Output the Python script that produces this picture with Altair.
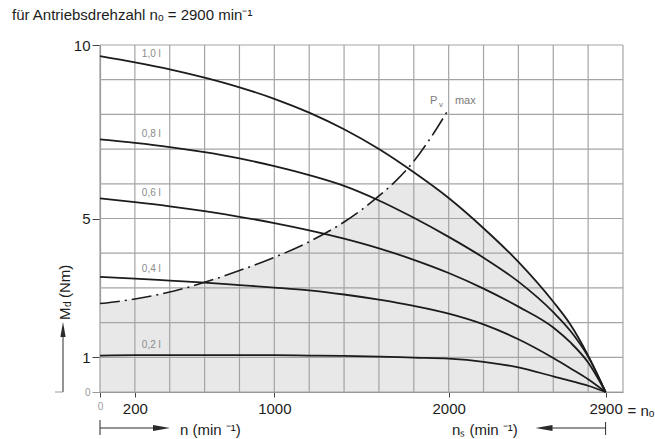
import altair as alt
import numpy as np
import pandas as pd

# ---------------- data ----------------
N = [0, 200, 400, 600, 800, 1000, 1200, 1400, 1600, 1800, 2000, 2200, 2400, 2600, 2700, 2800, 2900]
M_10 = [9.68, 9.50, 9.30, 9.06, 8.78, 8.45, 8.05, 7.57, 7.00, 6.33, 5.59, 4.72, 3.75, 2.60, 1.93, 1.05, 0.0]
M_08 = [7.28, 7.18, 7.06, 6.91, 6.73, 6.51, 6.25, 5.94, 5.52, 5.02, 4.47, 3.87, 3.18, 2.30, 1.75, 1.02, 0.0]
M_06 = [5.58, 5.47, 5.35, 5.21, 5.05, 4.87, 4.66, 4.42, 4.14, 3.81, 3.43, 2.98, 2.46, 1.86, 1.42, 0.85, 0.0]
M_04 = [3.32, 3.27, 3.21, 3.15, 3.08, 3.01, 2.93, 2.81, 2.66, 2.48, 2.26, 1.95, 1.52, 0.98, 0.68, 0.37, 0.0]
M_02 = [1.05, 1.06, 1.06, 1.06, 1.06, 1.06, 1.05, 1.04, 1.02, 0.99, 0.96, 0.87, 0.71, 0.45, 0.32, 0.18, 0.0]
CURVES = [("1,0 l", M_10), ("0,8 l", M_08), ("0,6 l", M_06), ("0,4 l", M_04), ("0,2 l", M_02)]

PV_N = [0, 200, 400, 600, 800, 1000, 1200, 1400, 1500, 1600, 1700, 1800, 1900, 1990]
PV_M = [2.55, 2.68, 2.88, 3.16, 3.50, 3.88, 4.33, 4.90, 5.25, 5.65, 6.10, 6.65, 7.35, 8.07]

SHADE_CAP = 6.0
LABEL_N = 240
X_TICKS = [0, 200, 1000, 2000, 2900]
Y_TICKS = [0, 1, 5, 10]
X_GRID = list(range(0, 3001, 200))
Y_GRID = list(range(0, 11))

TITLE = "f\u00fcr Antriebsdrehzahl n\u2092 = 2900 min\u207b\u00b9"

# ---------------- derived tables ----------------
curve_df = pd.concat(
    [pd.DataFrame({"n": N, "M": vals, "curve": name}) for name, vals in CURVES],
    ignore_index=True,
)
pv_df = pd.DataFrame({"n": PV_N, "M": PV_M})

n1 = float(np.interp(SHADE_CAP, PV_M, PV_N))
n2 = float(np.interp(SHADE_CAP, M_10[::-1], N[::-1]))
shade_n = sorted(set(N) | set(PV_N) | {n1, n2})
shade_top = [min(np.interp(v, PV_N, PV_M), SHADE_CAP, np.interp(v, N, M_10)) for v in shade_n]
shade_df = pd.DataFrame({"n": shade_n, "M": shade_top})

label_df = pd.DataFrame({
    "n": [LABEL_N] * len(CURVES),
    "M": [float(np.interp(LABEL_N, N, vals)) for _, vals in CURVES],
    "text": [name for name, _ in CURVES],
})
pv_end = pd.DataFrame({"n": [PV_N[-1]], "M": [PV_M[-1]]})
vgrid = pd.DataFrame({"n": X_GRID})
hgrid = pd.DataFrame({"M": Y_GRID})
n0_df = pd.DataFrame({"n": [2900]})
one = pd.DataFrame({"k": [0]})

# ---------------- styling ----------------
W, H = 523, 347
FONT = "Liberation Sans"
INK = "#1c1c1c"
GRID = "#a4a4a4"

xs = alt.Scale(domain=[0, 3000], nice=False, zero=False)
ys = alt.Scale(domain=[0, 10], nice=False)

x_axis = alt.Axis(
    values=X_TICKS, format="d", grid=False, title=None,
    domain=True, domainColor="#8c8c8c", domainWidth=1.2,
    ticks=True, tickSize=5, tickColor="#444444",
    labelFont=FONT,
    labelFontSize={"condition": {"test": "datum.value == 0", "value": 10}, "value": 15},
    labelColor={"condition": {"test": "datum.value == 0", "value": "#9a9a9a"}, "value": INK},
    labelPadding=4, labelFlush=False, labelOverlap=False,
)
y_axis = alt.Axis(
    values=Y_TICKS, grid=False, title=None,
    domain=True, domainColor="#8c8c8c", domainWidth=1.2,
    ticks=True, tickSize=8,
    tickColor={"condition": {"test": "datum.value == 0", "value": "#9a9a9a"}, "value": "#444444"},
    labelFont=FONT,
    labelFontSize={"condition": {"test": "datum.value == 0", "value": 10}, "value": 15},
    labelColor={"condition": {"test": "datum.value == 0", "value": "#9a9a9a"}, "value": INK},
    labelPadding=2, labelFlush=False, labelOverlap=False,
)
X = alt.X("n:Q", scale=xs, axis=x_axis)
Y = alt.Y("M:Q", scale=ys, axis=y_axis)

layers = []
layers.append(alt.Chart(shade_df).mark_area(color="#e8e8e8", interpolate="linear").encode(x=X, y=Y))
layers.append(alt.Chart(vgrid).mark_rule(color=GRID, strokeWidth=1.2).encode(x=X))
layers.append(alt.Chart(hgrid).mark_rule(color=GRID, strokeWidth=1.2).encode(y=Y))
layers.append(
    alt.Chart(curve_df).mark_line(color=INK, strokeWidth=1.8, interpolate="monotone")
    .encode(x=X, y=Y, detail="curve:N")
)
layers.append(
    alt.Chart(pv_df).mark_line(color=INK, strokeWidth=1.6, interpolate="monotone", strokeDash=[20, 5, 2, 5])
    .encode(x=X, y=Y)
)
layers.append(
    alt.Chart(label_df).mark_text(align="left", baseline="middle", dy=-10, font=FONT, fontSize=10, color="#8a8a8a")
    .encode(x=X, y=Y, text="text:N")
)
# P_v max label
layers.append(alt.Chart(pv_end).mark_text(align="left", baseline="middle", dx=-17, dy=-11, font=FONT, fontSize=11, color="#7a7a7a", text="P").encode(x=X, y=Y))
layers.append(alt.Chart(pv_end).mark_text(align="left", baseline="middle", dx=-8, dy=-7, font=FONT, fontSize=8, color="#7a7a7a", text="v").encode(x=X, y=Y))
layers.append(alt.Chart(pv_end).mark_text(align="left", baseline="middle", dx=8, dy=-11, font=FONT, fontSize=11, color="#7a7a7a", text="max").encode(x=X, y=Y))
# "= n_o" after 2900
layers.append(alt.Chart(n0_df).mark_text(align="left", baseline="middle", dx=22, font=FONT, fontSize=15, color=INK, text="= n\u2092")
              .encode(x=X, y=alt.value(366)))

# title
layers.append(alt.Chart(one).mark_text(align="left", baseline="alphabetic", font=FONT, fontSize=15, color=INK, text=TITLE)
              .encode(x=alt.value(-88), y=alt.value(-25)))
# x-axis titles
layers.append(alt.Chart(one).mark_text(align="left", baseline="middle", font=FONT, fontSize=15, color=INK, text="n (min \u207b\u00b9)")
              .encode(x=alt.value(80), y=alt.value(385)))
layers.append(alt.Chart(one).mark_text(align="left", baseline="middle", font=FONT, fontSize=15, color=INK, text="n\u209b (min \u207b\u00b9)")
              .encode(x=alt.value(352), y=alt.value(385)))
# y-axis title (rotated pieces)
layers.append(alt.Chart(one).mark_text(align="left", baseline="middle", angle=270, font=FONT, fontSize=15, color=INK, text="M")
              .encode(x=alt.value(-35), y=alt.value(275)))
layers.append(alt.Chart(one).mark_text(align="left", baseline="middle", angle=270, font=FONT, fontSize=10, color=INK, text="d")
              .encode(x=alt.value(-32), y=alt.value(262)))
layers.append(alt.Chart(one).mark_text(align="left", baseline="middle", angle=270, font=FONT, fontSize=15, color=INK, text="(Nm)")
              .encode(x=alt.value(-35), y=alt.value(253)))

# arrows
ARROW = "#2a2a2a"
layers.append(alt.Chart(one).mark_rule(color=ARROW, strokeWidth=1).encode(x=alt.value(0), x2=alt.value(56), y=alt.value(383)))
layers.append(alt.Chart(one).mark_rule(color=ARROW, strokeWidth=1).encode(x=alt.value(0), y=alt.value(375), y2=alt.value(390)))
layers.append(alt.Chart(one).mark_point(filled=True, opacity=1, color=ARROW, size=289, shape="M1,0L-1,-0.35L-1,0.35Z")
              .encode(x=alt.value(61.5), y=alt.value(383)))
layers.append(alt.Chart(one).mark_rule(color=ARROW, strokeWidth=1).encode(x=alt.value(450), x2=alt.value(505.6), y=alt.value(383)))
layers.append(alt.Chart(one).mark_rule(color=ARROW, strokeWidth=1).encode(x=alt.value(505.6), y=alt.value(377), y2=alt.value(390)))
layers.append(alt.Chart(one).mark_point(filled=True, opacity=1, color=ARROW, size=289, shape="M-1,0L1,-0.35L1,0.35Z")
              .encode(x=alt.value(444), y=alt.value(383)))
layers.append(alt.Chart(one).mark_rule(color=ARROW, strokeWidth=1).encode(x=alt.value(-37), y=alt.value(347), y2=alt.value(290)))
layers.append(alt.Chart(one).mark_point(filled=True, opacity=1, color=ARROW, size=225, shape="M0,-1L0.35,1L-0.35,1Z")
              .encode(x=alt.value(-37), y=alt.value(284.5)))
layers.append(alt.Chart(one).mark_rule(color="#9a9a9a", strokeWidth=1).encode(x=alt.value(-45), x2=alt.value(-37), y=alt.value(347)))

chart = (
    alt.layer(*layers)
    .properties(width=W, height=H, padding={"left": 100, "top": 45, "right": 32, "bottom": 47},
                autosize=alt.AutoSizeParams(type="none"), background="white")
    .configure_view(strokeWidth=0)
)

chart.save("out.html", embed_options={"renderer": "svg", "actions": False})
